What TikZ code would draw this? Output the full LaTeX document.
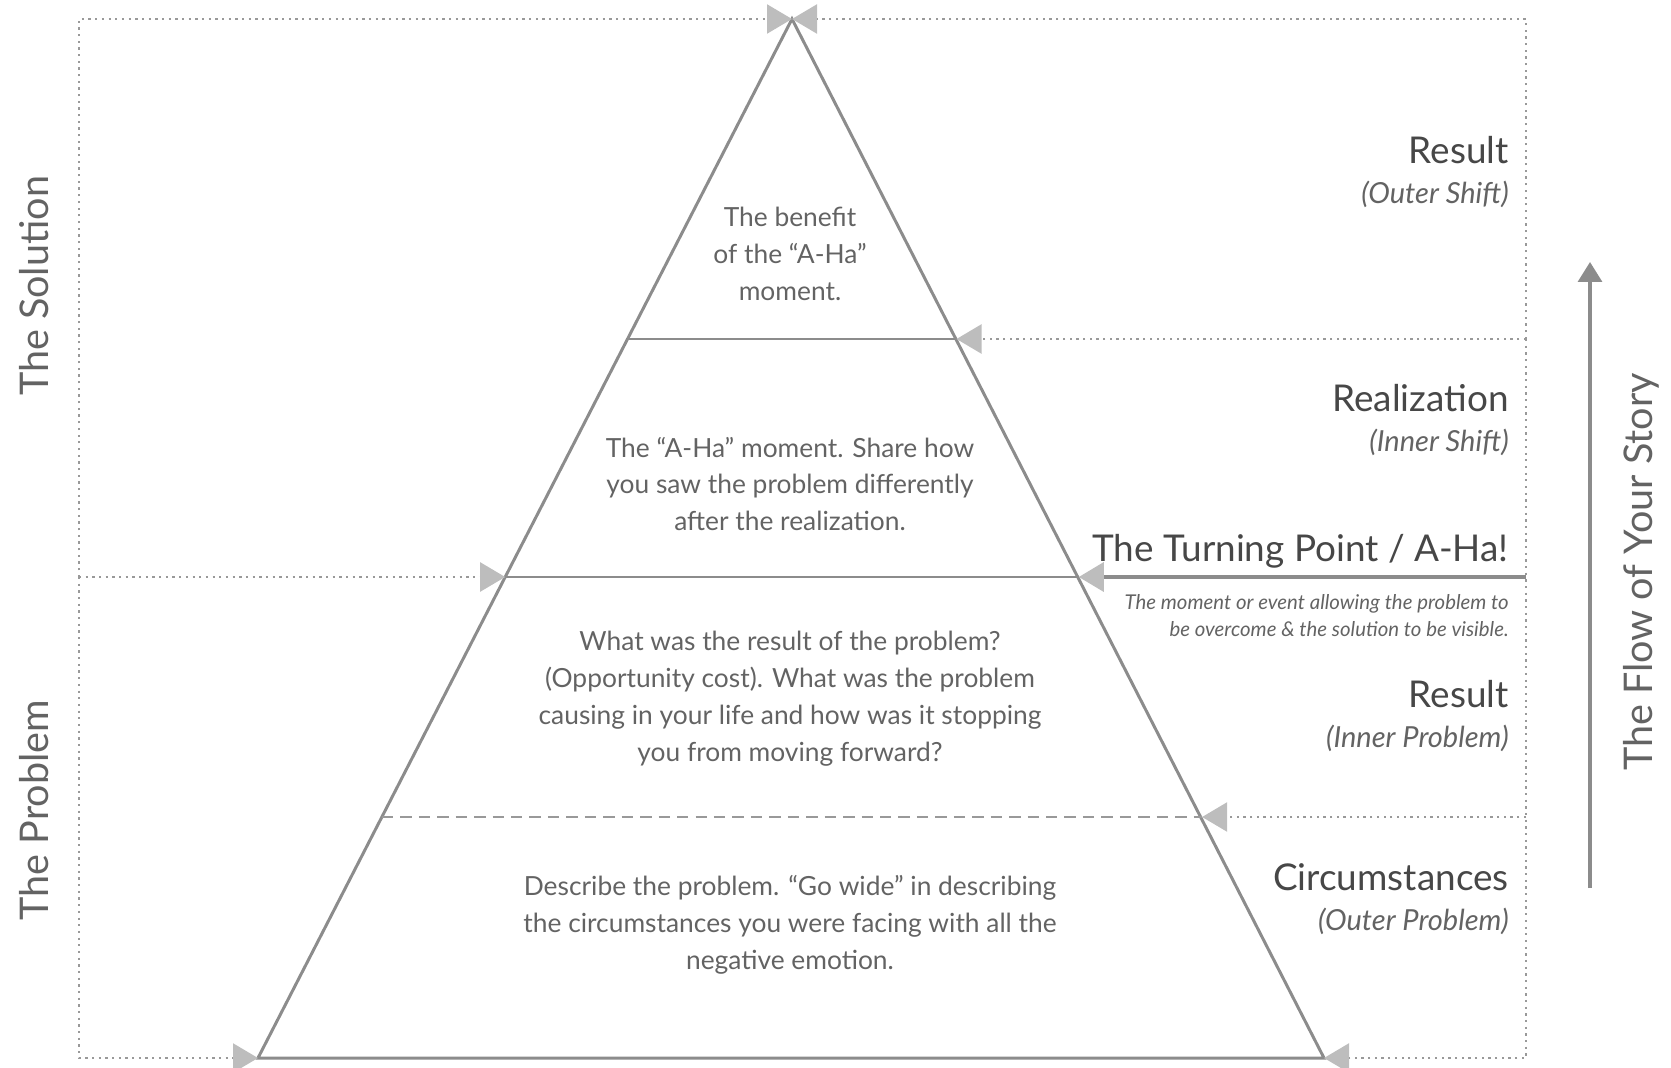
\documentclass[tikz,border=0pt]{standalone}
\usepackage{fontspec}
\setmainfont{Lato}
\usepackage{xcolor}
\usetikzlibrary{positioning, arrows.meta}

\definecolor{edgegray}{HTML}{8C8C8C}
\definecolor{tipgray}{HTML}{BDBDBD}
\definecolor{dotgray}{HTML}{999999}
\definecolor{inkgray}{HTML}{474747}
\definecolor{softgray}{HTML}{636363}

\begin{document}
\begin{tikzpicture}[x=0.02cm, y=-0.02cm,
    edge/.style={draw=edgegray, line width=1.7pt, line join=miter},
    split/.style={draw=dotgray, line width=1.3pt, dash pattern=on 6.5pt off 4pt},
    guide/.style={draw=dotgray, line width=1.3pt, dash pattern=on 1.3pt off 2.5pt},
    pointer/.style={guide, -{Triangle[length=0.5cm, width=0.58cm, color=tipgray]}},
    turn/.style={draw=edgegray, line width=2pt, -{Triangle[length=0.5cm, width=0.58cm, color=tipgray]}},
    rise/.style={draw=edgegray, line width=1.9pt, -{Triangle[length=0.4cm, width=0.48cm]}},
    body/.style={align=center, text=softgray, inner sep=0pt,
                 font=\fontsize{15}{21}\selectfont},
    stage/.style={anchor=east, text=inkgray, inner sep=0pt,
                  font=\fontsize{21}{25}\selectfont},
    aside/.style={text=softgray, inner sep=0pt,
                  font=\fontsize{16.5}{19}\selectfont\itshape},
    note/.style={align=right, text=softgray, inner sep=0pt,
                 font=\fontsize{11.6}{15.3}\selectfont\itshape},
    side/.style={rotate=90, text=softgray, inner sep=0pt,
                 font=\fontsize{22.5}{27}\selectfont}
  ]
  \useasboundingbox (0,0) rectangle (1671,1068);

  % pyramid corners and cut points
  \coordinate (apex) at (792,19);
  \coordinate (baseL) at (258,1058);
  \coordinate (baseR) at (1324,1058);
  \coordinate (cutAL) at (627.5,339);
  \coordinate (cutAR) at (956.5,339);
  \coordinate (cutBL) at (505.2,577);
  \coordinate (cutBR) at (1078.8,577);
  \coordinate (cutCL) at (381.9,817);
  \coordinate (cutCR) at (1202.1,817);

  % frame joints
  \coordinate (leftMid) at (79,577);
  \coordinate (rightA) at (1526,339);
  \coordinate (rightB) at (1526,577);
  \coordinate (rightC) at (1526,817);

  \draw[edge] (apex) -- (baseL) -- (baseR) -- cycle;
  \draw[edge] (cutAL) -- (cutAR);
  \draw[edge] (cutBL) -- (cutBR);
  \draw[split] (cutCL) -- (cutCR);

  \draw[pointer] (leftMid) |- (apex);
  \draw[pointer] (rightA) |- (apex);
  \draw[pointer] (leftMid) -- (cutBL);
  \draw[pointer] (leftMid) |- (baseL);
  \draw[pointer] (rightA) -- (cutAR);
  \draw[pointer] (rightA) |- (baseR);
  \draw[pointer] (rightC) -- (cutCR);
  \draw[turn] (rightB) -- (cutBR);

  % text inside the pyramid
  \node[body] (benefit) at (790,254) {The benefit\\of the “A-Ha”\\moment.};
  \node[body] (aha) at (790,484) {The “A-Ha” moment. Share how\\you saw the problem differently\\after the realization.};
  \node[body] (cost) at (790,699) {What was the result of the problem?\\(Opportunity cost). What was the problem\\causing in your life and how was it stopping\\you from moving forward?};
  \node[body] (wide) at (790,925) {Describe the problem. “Go wide” in describing\\the circumstances you were facing with all the\\negative emotion.};

  % stage labels on the right
  \node[stage] (outerRes) at (1509,150) {Result};
  \node[aside, below=3.4mm of outerRes.south east, anchor=north east] (outerShift) {(Outer Shift)};
  \node[stage] (realize) at (1509,398) {Realization};
  \node[aside, below=3.4mm of realize.south east, anchor=north east] (innerShift) {(Inner Shift)};
  \node[stage] (turning) at (1509,551) {The Turning Point / A-Ha!};
  \node[note, below=5.2mm of turning.south east, anchor=north east] (turnNote) {The moment or event allowing the problem to\\be overcome \& the solution to be visible.};
  \node[stage] (innerRes) at (1509,694) {Result};
  \node[aside, below=3.4mm of innerRes.south east, anchor=north east] (innerProb) {(Inner Problem)};
  \node[stage] (circum) at (1509,877) {Circumstances};
  \node[aside, below=3.4mm of circum.south east, anchor=north east] (outerProb) {(Outer Problem)};

  % side captions
  \node[side] (solution) at (34,286) {The Solution};
  \node[side] (problem) at (34,810) {The Problem};
  \node[side] (story) at (1641,572) {The Flow of Your Story};

  \coordinate (flowFoot) at (1590,888);
  \coordinate (flowHead) at (1590,262);
  \draw[rise] (flowFoot) -- (flowHead);
\end{tikzpicture}
\end{document}
